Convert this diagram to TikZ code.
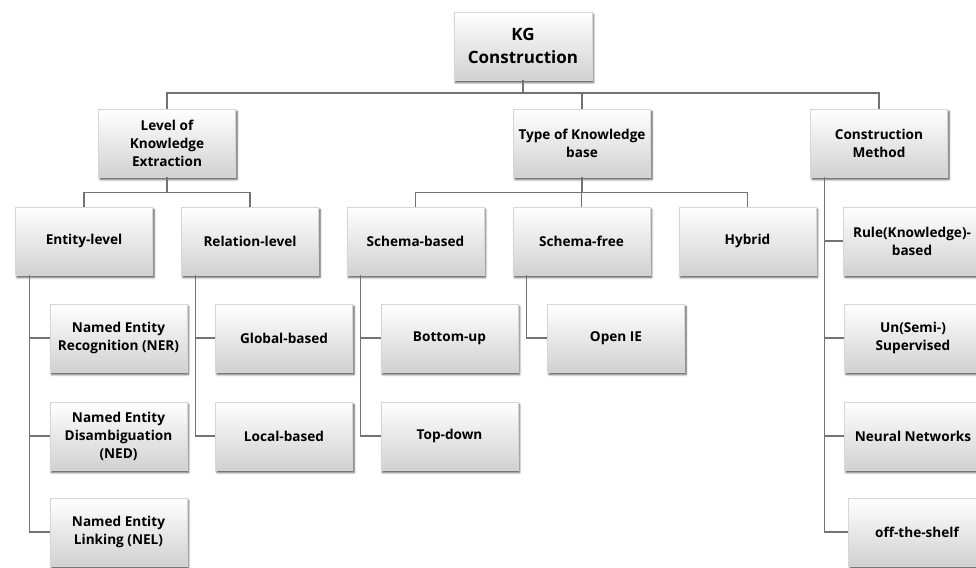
\documentclass[tikz,border=0pt]{standalone}
\usepackage{fontspec}
\setmainfont{Open Sans}
\usetikzlibrary{shadows.blur}
\begin{document}
\begin{tikzpicture}[x=1pt,y=-1pt,
  box/.style={draw=black!16, line width=0.6pt, top color=white, bottom color=black!18,
    minimum width=137pt, minimum height=68pt, inner sep=2pt, align=center,
    font=\fontsize{13.6}{18}\selectfont\bfseries,
    blur shadow={shadow xshift=1.5pt, shadow yshift=-2.5pt, shadow blur radius=2pt, shadow opacity=70}},
  rootbox/.style={box, minimum width=138pt, font=\fontsize{17}{23}\selectfont\bfseries},
  link/.style={draw=black!55, line width=1.3pt}
]
\useasboundingbox (0,0) rectangle (976,567);

% root
\node[rootbox] (kg) at (523,46) {KG\\Construction};

% first level
\node[box] (lke) at (167,143) {Level of\\Knowledge\\Extraction};
\node[box] (tkb) at (582,143) {Type of Knowledge\\base};
\node[box] (cm)  at (879,143) {Construction\\Method};

% second level
\node[box] (ent) at (84,241)    {Entity-level};
\node[box] (rel) at (250,241)   {Relation-level};
\node[box] (sb)  at (415.5,241) {Schema-based};
\node[box] (sf)  at (581.5,241) {Schema-free};
\node[box] (hy)  at (747.5,241) {Hybrid};
\node[box] (rule) at (912,241)  {Rule(Knowledge)-\\based};

% leaves
\node[box] (ner) at (118.5,338) {Named Entity\\Recognition (NER)};
\node[box] (ned) at (118.5,436) {Named Entity\\Disambiguation\\(NED)};
\node[box] (nel) at (118.5,532) {Named Entity\\Linking (NEL)};
\node[box] (glo) at (284,338)   {Global-based};
\node[box] (loc) at (284,436)   {Local-based};
\node[box] (bu)  at (449.5,338) {Bottom-up};
\node[box] (td)  at (449.5,436) {Top-down};
\node[box] (oie) at (616,338)   {Open IE};
\node[box] (uns) at (913,338)   {Un(Semi-)\\Supervised};
\node[box] (nn)  at (913,436)   {Neural Networks};
\node[box] (ots) at (917,532)   {off-the-shelf};

% root to first level
\coordinate (b1) at (523,93);
\draw[link] (kg.south) -- (b1);
\draw[link] (lke.north) |- (b1) -| (cm.north);
\draw[link] (tkb.north) -- (tkb.north |- b1);

% first to second level
\draw[link] (lke.south) -- ++(0,15) coordinate (b2);
\draw[link] (ent.north) |- (b2) -| (rel.north);
\draw[link] (tkb.south) -- ++(0,15) coordinate (b3);
\draw[link] (sb.north) |- (b3) -| (hy.north);
\draw[link] (sf.north) -- (sf.north |- b3);

% vertical spines to leaves
\coordinate (es) at ([xshift=14pt]ent.south west);
\draw[link] (es) |- (nel.west);
\draw[link] (ner.west) -- (ner.west -| es);
\draw[link] (ned.west) -- (ned.west -| es);

\coordinate (rs) at ([xshift=14pt]rel.south west);
\draw[link] (rs) |- (loc.west);
\draw[link] (glo.west) -- (glo.west -| rs);

\coordinate (ss) at ([xshift=14pt]sb.south west);
\draw[link] (ss) |- (td.west);
\draw[link] (bu.west) -- (bu.west -| ss);

\coordinate (fs) at ([xshift=14pt]sf.south west);
\draw[link] (fs) |- (oie.west);

\coordinate (cs) at ([xshift=14pt]cm.south west);
\draw[link] (cs) |- (ots.west);
\draw[link] (rule.west) -- (rule.west -| cs);
\draw[link] (uns.west) -- (uns.west -| cs);
\draw[link] (nn.west) -- (nn.west -| cs);
\end{tikzpicture}
\end{document}
